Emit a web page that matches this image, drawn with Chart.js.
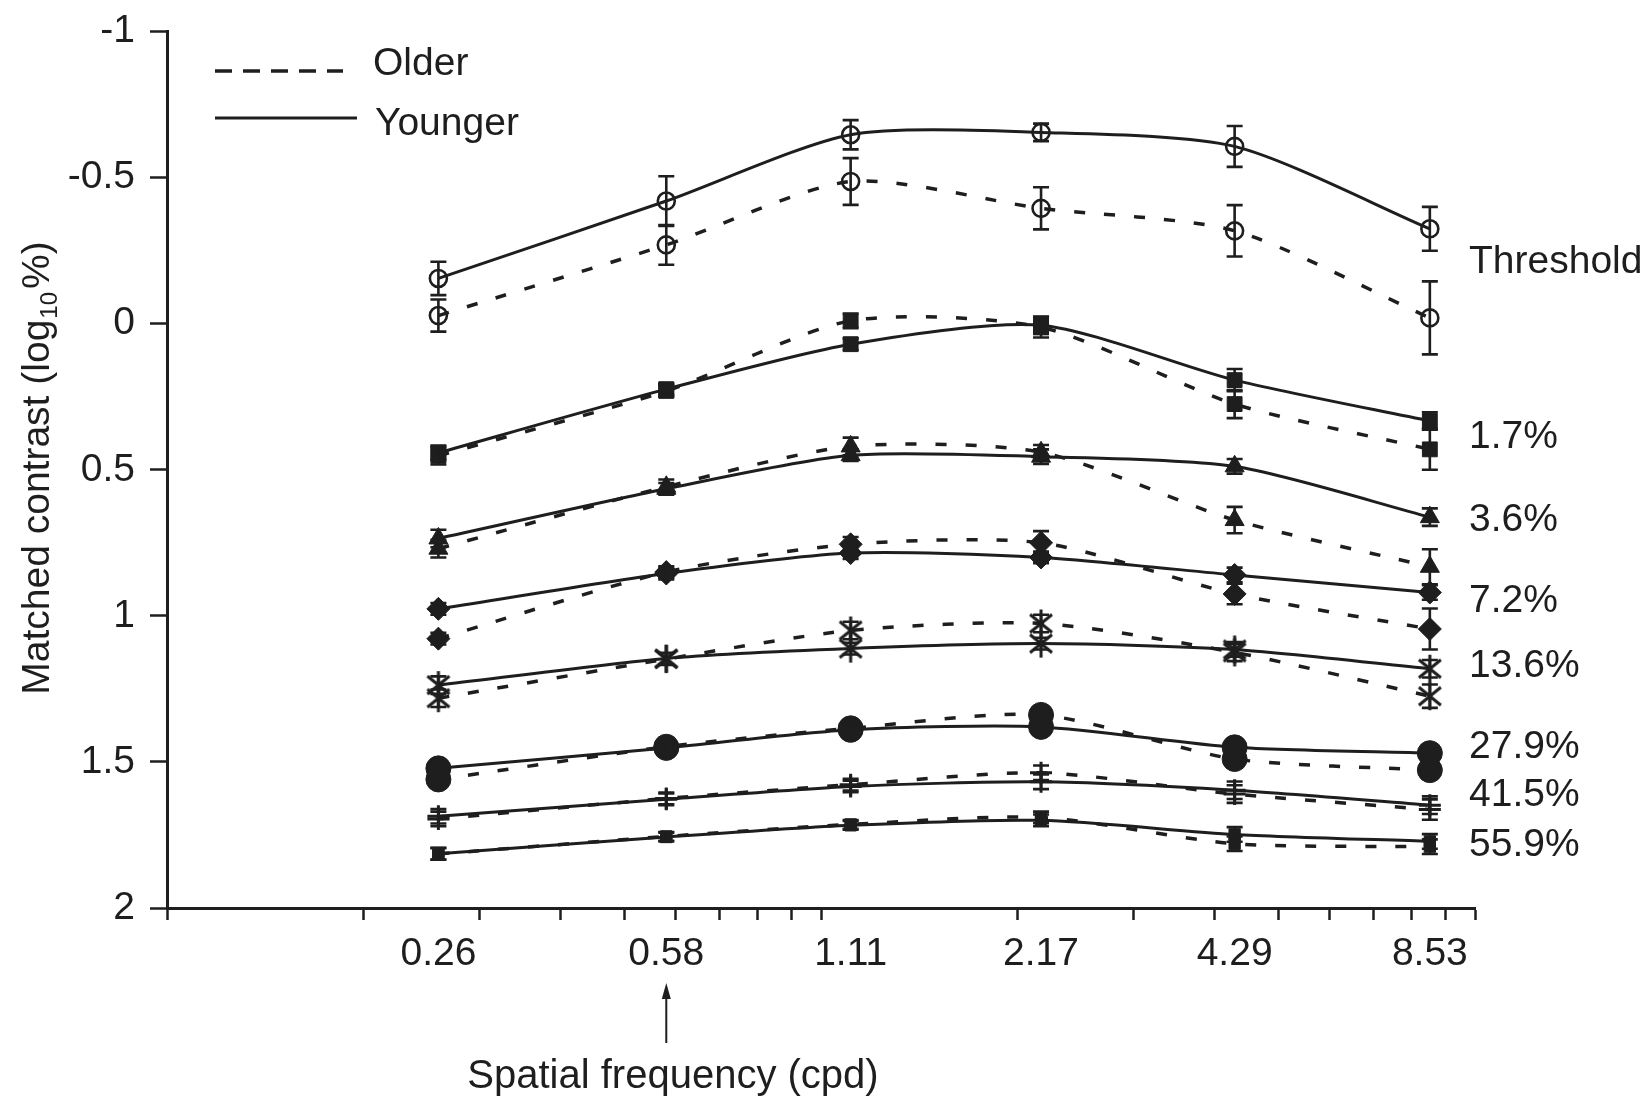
<!DOCTYPE html>
<html><head><meta charset="utf-8">
<script src="https://cdn.jsdelivr.net/npm/chart.js@4.4.1/dist/chart.umd.min.js"></script>
<style>html,body{margin:0;padding:0;background:#fff;}canvas{display:block;}</style>
</head><body>
<canvas id="c" width="1652" height="1100"></canvas>
<script>
// ---------- data ----------
const frequencies = [0.26, 0.58, 1.11, 2.17, 4.29, 8.53];
const xTickLabels = ['0.26', '0.58', '1.11', '2.17', '4.29', '8.53'];
const xMinorTicks = [0.1, 0.2, 0.3, 0.4, 0.5, 0.6, 0.7, 0.8, 0.9, 1, 2, 3, 4, 5, 6, 7, 8, 9, 10];
const yTicks = [-1, -0.5, 0, 0.5, 1, 1.5, 2];
const contrastLevels = ['Threshold', '1.7%', '3.6%', '7.2%', '13.6%', '27.9%', '41.5%', '55.9%'];
const groups = ['Older', 'Younger'];

const youngerThreshold = [-0.155, -0.42, -0.647, -0.655, -0.607, -0.325];
const olderThreshold   = [-0.028, -0.27, -0.487, -0.395, -0.318, -0.02];
const younger1_7  = [0.442, 0.224, 0.07, 0.005, 0.193, 0.333];
const older1_7    = [0.452, 0.23, -0.01, 0.012, 0.275, 0.43];
const younger3_6  = [0.735, 0.565, 0.45, 0.455, 0.488, 0.662];
const older3_6    = [0.77, 0.558, 0.42, 0.44, 0.672, 0.832];
const younger7_2  = [0.976, 0.855, 0.785, 0.8, 0.86, 0.92];
const older7_2    = [1.078, 0.85, 0.755, 0.75, 0.925, 1.045];
const younger13_6 = [1.237, 1.146, 1.112, 1.095, 1.115, 1.181];
const older13_6   = [1.282, 1.148, 1.05, 1.026, 1.125, 1.275];
const younger27_9 = [1.522, 1.452, 1.39, 1.38, 1.45, 1.47];
const older27_9   = [1.56, 1.448, 1.385, 1.339, 1.49, 1.528];
const younger41_5 = [1.686, 1.628, 1.584, 1.568, 1.597, 1.648];
const older41_5   = [1.695, 1.625, 1.578, 1.537, 1.61, 1.663];
const younger55_9 = [1.814, 1.757, 1.717, 1.7, 1.748, 1.772];
const older55_9   = [1.815, 1.755, 1.714, 1.69, 1.78, 1.79];

const youngerThresholdErr = [0.057, 0.085, 0.05, 0.03, 0.07, 0.075];
const olderThresholdErr   = [0.055, 0.068, 0.08, 0.072, 0.088, 0.125];
const younger1_7Err  = [0.025, 0.02, 0.02, 0.03, 0.038, 0.03];
const older1_7Err    = [0.03, 0.02, 0.025, 0.035, 0.048, 0.07];
const younger3_6Err  = [0.03, 0.02, 0.02, 0.025, 0.025, 0.03];
const older3_6Err    = [0.03, 0.025, 0.03, 0.025, 0.045, 0.06];
const younger7_2Err  = [0.02, 0.02, 0.02, 0.02, 0.025, 0.025];
const older7_2Err    = [0.02, 0.02, 0.025, 0.04, 0.035, 0.07];
const younger13_6Err = [0.03, 0.02, 0.02, 0.02, 0.025, 0.03];
const older13_6Err   = [0.03, 0.02, 0.03, 0.03, 0.03, 0.04];
const younger27_9Err = [0.02, 0.02, 0.02, 0.02, 0.025, 0.025];
const older27_9Err   = [0.02, 0.02, 0.02, 0.025, 0.03, 0.03];
const younger41_5Err = [0.025, 0.02, 0.02, 0.025, 0.03, 0.03];
const older41_5Err   = [0.025, 0.02, 0.02, 0.025, 0.03, 0.035];
const younger55_9Err = [0.02, 0.015, 0.015, 0.02, 0.025, 0.025];
const older55_9Err   = [0.02, 0.015, 0.015, 0.02, 0.025, 0.025];

// ---------- styling ----------
const INK = '#1e1e1e';
const FONT = "'Liberation Sans', Arial, Helvetica, sans-serif";
Chart.defaults.font.family = FONT;
Chart.defaults.color = INK;

function makeAsterisk() {
  const c = document.createElement('canvas');
  c.width = 30; c.height = 30;
  const g = c.getContext('2d');
  g.strokeStyle = INK; g.lineWidth = 3; g.lineCap = 'butt';
  g.beginPath();
  g.moveTo(15, 1); g.lineTo(15, 29);
  g.moveTo(4, 6); g.lineTo(26, 24);
  g.moveTo(26, 6); g.lineTo(4, 24);
  g.stroke();
  return c;
}
const asterisk = makeAsterisk();

const levelSeries = [
  { younger: youngerThreshold, youngerErr: youngerThresholdErr, older: olderThreshold, olderErr: olderThresholdErr, style: 'circle', radius: 8.5, open: true },
  { younger: younger1_7, youngerErr: younger1_7Err, older: older1_7, olderErr: older1_7Err, style: 'rect', radius: 10.5 },
  { younger: younger3_6, youngerErr: younger3_6Err, older: older3_6, olderErr: older3_6Err, style: 'triangle', radius: 11 },
  { younger: younger7_2, youngerErr: younger7_2Err, older: older7_2, olderErr: older7_2Err, style: 'rectRot', radius: 11.5 },
  { younger: younger13_6, youngerErr: younger13_6Err, older: older13_6, olderErr: older13_6Err, style: asterisk, radius: 12 },
  { younger: younger27_9, youngerErr: younger27_9Err, older: older27_9, olderErr: older27_9Err, style: 'circle', radius: 12.5 },
  { younger: younger41_5, youngerErr: younger41_5Err, older: older41_5, olderErr: older41_5Err, style: 'cross', radius: 11 },
  { younger: younger55_9, youngerErr: younger55_9Err, older: older55_9, olderErr: older55_9Err, style: 'rect', radius: 8 }
];

const datasets = [];
levelSeries.forEach((s, li) => {
  groups.forEach(group => {
    const vals = group === 'Older' ? s.older : s.younger;
    const errs = group === 'Older' ? s.olderErr : s.youngerErr;
    datasets.push({
      label: contrastLevels[li] + ' ' + group,
      data: frequencies.map((f, i) => ({ x: f, y: vals[i] })),
      errors: errs,
      borderColor: INK,
      borderWidth: group === 'Older' ? 3.5 : 3,
      borderDash: group === 'Older' ? [11, 19] : [],
      tension: 0.25,
      pointStyle: s.style,
      pointRadius: s.radius,
      pointBorderWidth: s.open ? 2.6 : (s.style === 'cross' ? 3 : 1),
      pointBorderColor: INK,
      pointBackgroundColor: s.open ? 'rgba(0,0,0,0)' : INK,
      fill: false
    });
  });
});

// ---------- plugins ----------
const errorBarPlugin = {
  id: 'errorBars',
  afterDatasetsDraw(chart) {
    const ctx = chart.ctx, y = chart.scales.y;
    ctx.save();
    ctx.strokeStyle = INK; ctx.lineWidth = 2.6; ctx.setLineDash([]);
    chart.data.datasets.forEach((ds, di) => {
      const meta = chart.getDatasetMeta(di);
      ds.errors.forEach((e, i) => {
        const pt = meta.data[i];
        const v = ds.data[i].y;
        const yTop = y.getPixelForValue(v - e), yBot = y.getPixelForValue(v + e);
        ctx.beginPath();
        ctx.moveTo(pt.x, yTop); ctx.lineTo(pt.x, yBot);
        ctx.moveTo(pt.x - 8, yTop); ctx.lineTo(pt.x + 8, yTop);
        ctx.moveTo(pt.x - 8, yBot); ctx.lineTo(pt.x + 8, yBot);
        ctx.stroke();
      });
    });
    ctx.restore();
  }
};

const labelValuePositions = [-0.22, 0.378, 0.662, 0.938, 1.162, 1.44, 1.602, 1.775];

const decorPlugin = {
  id: 'decor',
  afterDraw(chart) {
    const ctx = chart.ctx, xs = chart.scales.x, ys = chart.scales.y;
    ctx.save();
    ctx.fillStyle = INK; ctx.strokeStyle = INK;
    // legend
    ctx.lineWidth = 3.5; ctx.setLineDash([17, 11]);
    ctx.beginPath(); ctx.moveTo(215, 71); ctx.lineTo(343, 71); ctx.stroke();
    ctx.setLineDash([]); ctx.lineWidth = 3;
    ctx.beginPath(); ctx.moveTo(215, 118); ctx.lineTo(357, 118); ctx.stroke();
    ctx.font = '39px ' + FONT; ctx.textAlign = 'left'; ctx.textBaseline = 'alphabetic';
    ctx.fillText(groups[0], 373, 75);
    ctx.fillText(groups[1], 375, 135);
    // contrast level labels at right
    contrastLevels.forEach((lab, i) => {
      ctx.fillText(lab, xs.right - 6, ys.getPixelForValue(labelValuePositions[i]) + 14);
    });
    // x-axis title
    ctx.font = '40px ' + FONT; ctx.textAlign = 'center';
    ctx.fillText('Spatial frequency (cpd)', 673, 1088);
    // arrow under 0.58
    const ax = xs.getPixelForValue(frequencies[1]);
    ctx.lineWidth = 2;
    ctx.beginPath(); ctx.moveTo(ax, 996); ctx.lineTo(ax, 1043); ctx.stroke();
    ctx.beginPath(); ctx.moveTo(ax, 983); ctx.lineTo(ax - 4.5, 999); ctx.lineTo(ax + 4.5, 999); ctx.closePath(); ctx.fill();
    // y-axis title with subscript
    const p1 = 'Matched contrast (log', p2 = '10', p3 = '%)';
    ctx.font = '39px ' + FONT; const w1 = ctx.measureText(p1).width, w3 = ctx.measureText(p3).width;
    ctx.font = '24px ' + FONT; const w2 = ctx.measureText(p2).width;
    const W = w1 + w2 + w3 + 4;
    ctx.translate(49, 468); ctx.rotate(-Math.PI / 2);
    ctx.textAlign = 'left';
    let x0 = -W / 2;
    ctx.font = '39px ' + FONT; ctx.fillText(p1, x0, 0); x0 += w1 + 1;
    ctx.font = '24px ' + FONT; ctx.fillText(p2, x0, 8); x0 += w2 + 3;
    ctx.font = '39px ' + FONT; ctx.fillText(p3, x0, 0);
    ctx.restore();
  }
};

// ---------- chart ----------
new Chart(document.getElementById('c'), {
  type: 'line',
  data: { datasets },
  plugins: [errorBarPlugin, decorPlugin],
  options: {
    responsive: false,
    animation: false,
    events: [],
    layout: { padding: { top: 31.6, right: 177, left: 0, bottom: 0 } },
    plugins: { legend: { display: false }, tooltip: { enabled: false } },
    scales: {
      x: {
        type: 'logarithmic',
        min: 0.1, max: 10,
        afterBuildTicks: (scale) => {
          const vals = xMinorTicks.concat(frequencies).sort((a, b) => a - b);
          scale.ticks = vals.map(v => ({ value: v }));
        },
        afterFit: (scale) => { scale.height = 192; scale.paddingLeft = 0; scale.paddingRight = 0; },
        border: { display: true, color: INK, width: 3 },
        grid: {
          drawOnChartArea: false, drawTicks: true, tickLength: 12, tickWidth: 2.5,
          tickColor: (ctx) => (ctx.tick && frequencies.includes(ctx.tick.value)) ? 'rgba(0,0,0,0)' : INK
        },
        ticks: {
          autoSkip: false, maxRotation: 0, minRotation: 0, padding: 11,
          font: { size: 39 }, color: INK,
          callback: (value) => {
            const i = frequencies.indexOf(value);
            return i >= 0 ? xTickLabels[i] : '';
          }
        }
      },
      y: {
        type: 'linear', reverse: true,
        min: yTicks[0], max: yTicks[yTicks.length - 1],
        afterBuildTicks: (scale) => { scale.ticks = yTicks.map(v => ({ value: v })); },
        afterFit: (scale) => { scale.width = 167; scale.paddingTop = 0; scale.paddingBottom = 0; },
        border: { display: true, color: INK, width: 3 },
        grid: { drawOnChartArea: false, drawTicks: true, tickLength: 17, tickWidth: 2.5, tickColor: INK },
        ticks: { padding: 15, font: { size: 39 }, color: INK, callback: (v) => String(v) }
      }
    }
  }
});
</script>
</body></html>
